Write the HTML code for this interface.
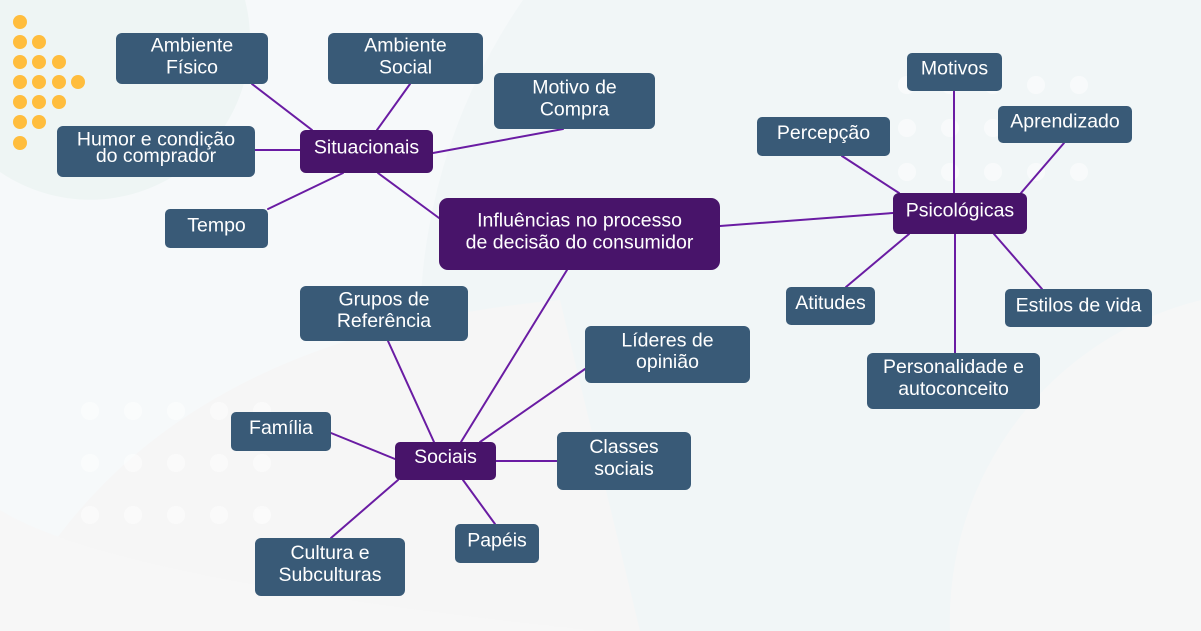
<!DOCTYPE html>
<html><head><meta charset="utf-8">
<style>
html,body{margin:0;padding:0;width:1201px;height:631px;overflow:hidden;background:#f5f8f9;}
svg{display:block;overflow:hidden}
text{font-family:"Liberation Sans",sans-serif;font-size:19.5px;fill:#ffffff;text-anchor:middle;}
</style></head>
<body>
<svg width="1201" height="631" viewBox="0 0 1201 631" xmlns="http://www.w3.org/2000/svg">
<!-- background -->
<rect x="0" y="0" width="1201" height="631" fill="#f6f9fa"/>
<path d="M523,0 A580,580 0 0,0 504,631 L1201,631 L1201,0 Z" fill="#f1f6f7"/>
<path d="M0,0 L245,0 A160,160 0 0,1 0,172 Z" fill="#eef5f4"/>
<path d="M0,631 C 80,470 230,330 560,300 L 640,631 Z" fill="#f6f6f6"/>
<path d="M600,631 C 300,600 80,560 0,510 L 0,631 Z" fill="#f7f7f7"/>
<path d="M1201,300 A330,330 0 0,0 950,631 L1201,631 Z" fill="#f6f7f7"/>
<!-- white dots -->
<g fill="#ffffff" opacity="0.55">
<circle cx="90" cy="411" r="9"/><circle cx="133" cy="411" r="9"/><circle cx="176" cy="411" r="9"/><circle cx="219" cy="411" r="9"/><circle cx="262" cy="411" r="9"/>
<circle cx="90" cy="463" r="9"/><circle cx="133" cy="463" r="9"/><circle cx="176" cy="463" r="9"/><circle cx="219" cy="463" r="9"/><circle cx="262" cy="463" r="9"/>
<circle cx="90" cy="515" r="9"/><circle cx="133" cy="515" r="9"/><circle cx="176" cy="515" r="9"/><circle cx="219" cy="515" r="9"/><circle cx="262" cy="515" r="9"/>
<circle cx="907" cy="85" r="9"/><circle cx="950" cy="85" r="9"/><circle cx="993" cy="85" r="9"/><circle cx="1036" cy="85" r="9"/><circle cx="1079" cy="85" r="9"/>
<circle cx="907" cy="128" r="9"/><circle cx="950" cy="128" r="9"/><circle cx="993" cy="128" r="9"/><circle cx="1036" cy="128" r="9"/><circle cx="1079" cy="128" r="9"/>
<circle cx="907" cy="172" r="9"/><circle cx="950" cy="172" r="9"/><circle cx="993" cy="172" r="9"/><circle cx="1036" cy="172" r="9"/><circle cx="1079" cy="172" r="9"/>
</g>
<!-- yellow dots -->
<g fill="#ffbd3d">
<circle cx="20" cy="22" r="7"/>
<circle cx="20" cy="42" r="7"/><circle cx="39" cy="42" r="7"/>
<circle cx="20" cy="62" r="7"/><circle cx="39" cy="62" r="7"/><circle cx="59" cy="62" r="7"/>
<circle cx="20" cy="82" r="7"/><circle cx="39" cy="82" r="7"/><circle cx="59" cy="82" r="7"/><circle cx="78" cy="82" r="7"/>
<circle cx="20" cy="102" r="7"/><circle cx="39" cy="102" r="7"/><circle cx="59" cy="102" r="7"/>
<circle cx="20" cy="122" r="7"/><circle cx="39" cy="122" r="7"/>
<circle cx="20" cy="143" r="7"/>
</g>
<!-- connectors -->
<g stroke="#6a1ca3" stroke-width="2" fill="none" stroke-linecap="round">
<line x1="252" y1="84" x2="312" y2="130"/>
<line x1="410" y1="84" x2="377" y2="130"/>
<line x1="255" y1="150" x2="300" y2="150"/>
<line x1="433" y1="153" x2="563" y2="129"/>
<line x1="343" y1="173" x2="268" y2="209"/>
<line x1="378" y1="173" x2="439" y2="218"/>
<line x1="720" y1="226" x2="893" y2="213"/>
<line x1="567" y1="270" x2="461" y2="442"/>
<line x1="388" y1="341" x2="434" y2="442"/>
<line x1="585" y1="369" x2="480" y2="442"/>
<line x1="331" y1="433" x2="395" y2="459"/>
<line x1="496" y1="461" x2="557" y2="461"/>
<line x1="463" y1="480" x2="495" y2="524"/>
<line x1="398" y1="480" x2="331" y2="538"/>
<line x1="954" y1="91" x2="954" y2="193"/>
<line x1="1064" y1="143" x2="1021" y2="193"/>
<line x1="842" y1="156" x2="899" y2="193"/>
<line x1="846" y1="287" x2="909" y2="234"/>
<line x1="955" y1="353" x2="955" y2="234"/>
<line x1="1042" y1="289" x2="994" y2="234"/>
</g>
<!-- slate nodes -->
<g fill="#395a77">
<rect x="116" y="33" width="152" height="51" rx="6"/>
<rect x="328" y="33" width="155" height="51" rx="6"/>
<rect x="494" y="73" width="161" height="56" rx="6"/>
<rect x="57" y="126" width="198" height="51" rx="6"/>
<rect x="165" y="209" width="103" height="39" rx="5"/>
<rect x="907" y="53" width="95" height="38" rx="5"/>
<rect x="998" y="106" width="134" height="37" rx="5"/>
<rect x="757" y="117" width="133" height="39" rx="5"/>
<rect x="786" y="287" width="89" height="38" rx="5"/>
<rect x="1005" y="289" width="147" height="38" rx="5"/>
<rect x="867" y="353" width="173" height="56" rx="6"/>
<rect x="300" y="286" width="168" height="55" rx="6"/>
<rect x="585" y="326" width="165" height="57" rx="6"/>
<rect x="231" y="412" width="100" height="39" rx="5"/>
<rect x="557" y="432" width="134" height="58" rx="6"/>
<rect x="455" y="524" width="84" height="39" rx="5"/>
<rect x="255" y="538" width="150" height="58" rx="6"/>
</g>
<!-- purple nodes -->
<g fill="#48146a">
<rect x="300" y="130" width="133" height="43" rx="6"/>
<rect x="439" y="198" width="281" height="72" rx="9"/>
<rect x="893" y="193" width="134" height="41" rx="6"/>
<rect x="395" y="442" width="101" height="38" rx="5"/>
</g>
<!-- labels -->
<text x="192" y="51.5">Ambiente</text><text x="192" y="73.5">Físico</text>
<text x="405.5" y="51.5">Ambiente</text><text x="405.5" y="73.5">Social</text>
<text x="574.5" y="93.5">Motivo de</text><text x="574.5" y="115.5">Compra</text>
<text x="156" y="145.5">Humor e condição</text><text x="156" y="162">do comprador</text>
<text x="366.5" y="153.5">Situacionais</text>
<text x="216.5" y="231.5">Tempo</text>
<text x="579.5" y="226.5">Influências no processo</text><text x="579.5" y="248.5">de decisão do consumidor</text>
<text x="954.5" y="74.5">Motivos</text>
<text x="1065" y="127.5">Aprendizado</text>
<text x="823.5" y="139">Percepção</text>
<text x="960" y="216.5">Psicológicas</text>
<text x="830.5" y="309">Atitudes</text>
<text x="1078.5" y="311.5">Estilos de vida</text>
<text x="953.5" y="373">Personalidade e</text><text x="953.5" y="395">autoconceito</text>
<text x="384" y="305.5">Grupos de</text><text x="384" y="327">Referência</text>
<text x="667.5" y="346.5">Líderes de</text><text x="667.5" y="368">opinião</text>
<text x="281" y="434">Família</text>
<text x="445.5" y="463">Sociais</text>
<text x="624" y="453">Classes</text><text x="624" y="475">sociais</text>
<text x="497" y="546.5">Papéis</text>
<text x="330" y="559">Cultura e</text><text x="330" y="581">Subculturas</text>
</svg>
</body></html>
